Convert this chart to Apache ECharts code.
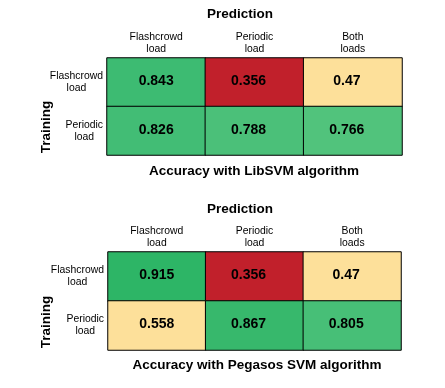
<!DOCTYPE html>
<html><head><meta charset="utf-8">
<script src="https://cdn.jsdelivr.net/npm/echarts@6/dist/echarts.min.js"></script>
<style>html,body{margin:0;padding:0;background:#fff}#c{width:445px;height:388px}</style>
</head><body><div id="c"></div>
<script>
var predCats = ['Flashcrowd\nload', 'Periodic\nload', 'Both\nloads'];
var trainCats = ['Flashcrowd\nload', 'Periodic\nload'];
var libsvmFlash = [0.843, 0.356, 0.47];
var libsvmPeriodic = [0.826, 0.788, 0.766];
var pegasosFlash = [0.915, 0.356, 0.47];
var pegasosPeriodic = [0.558, 0.867, 0.805];
var titles = ['Accuracy with LibSVM algorithm', 'Accuracy with Pegasos SVM algorithm'];

var colorFor = {
  '0.843': '#3dbb72', '0.356': '#c1202b', '0.47': '#fde09a',
  '0.826': '#42bd75', '0.788': '#4bc079', '0.766': '#51c37c',
  '0.915': '#2db566', '0.558': '#fde09a', '0.867': '#37b86c', '0.805': '#47bf77'
};
var FONT = 'Liberation Sans, Arial, sans-serif';

function buildData(rows) {
  var out = [];
  rows.forEach(function (row, yi) {
    row.forEach(function (v, xi) {
      out.push({
        value: [xi, yi, v],
        itemStyle: { color: colorFor[String(v)] },
        label: { offset: [xi === 0 ? 0 : -6, -1] }
      });
    });
  });
  return out;
}

var grids = [
  { left: 107, top: 58, width: 295, height: 97 },
  { left: 108, top: 252, width: 293, height: 98 }
];
var tops = [0, 195];

var xAxes = [], yAxes = [], series = [], graphics = [];
[[libsvmFlash, libsvmPeriodic], [pegasosFlash, pegasosPeriodic]].forEach(function (rows, i) {
  xAxes.push({
    type: 'category', gridIndex: i, position: 'top', data: predCats,
    axisLine: { show: false }, axisTick: { show: false }, splitArea: { show: false },
    axisLabel: { margin: 3, fontFamily: FONT, fontSize: 10.4, color: '#000', lineHeight: 12 }
  });
  yAxes.push({
    type: 'category', gridIndex: i, inverse: true, data: trainCats,
    axisLine: { show: false }, axisTick: { show: false }, splitArea: { show: false },
    axisLabel: {
      margin: 4, color: '#000',
      formatter: function (val) {
        return val.split('\n').map(function (s) { return '{a|' + s + '}'; }).join('\n');
      },
      rich: { a: { align: 'center', fontFamily: FONT, fontSize: 10.4, color: '#000', lineHeight: 12 } }
    }
  });
  series.push({
    type: 'heatmap', xAxisIndex: i, yAxisIndex: i,
    data: buildData(rows),
    itemStyle: { borderColor: '#000', borderWidth: 1 },
    label: {
      show: true, fontFamily: FONT, fontSize: 14, fontWeight: 'bold', color: '#000',
      formatter: function (p) { return String(p.value[2]); }
    },
    emphasis: { disabled: true }
  });
  var t = tops[i];
  graphics.push({
    type: 'text', x: 240, y: t + 14, style: {
      text: 'Prediction', font: 'bold 13.5px ' + FONT, fill: '#000',
      textAlign: 'center', textVerticalAlign: 'middle'
    }
  });
  graphics.push({
    type: 'text', x: 46, y: t + 127, rotation: Math.PI / 2, style: {
      text: 'Training', font: 'bold 13.5px ' + FONT, fill: '#000',
      textAlign: 'center', textVerticalAlign: 'middle'
    }
  });
  graphics.push({
    type: 'text', x: i === 0 ? 254 : 257, y: t + (i === 0 ? 171 : 170), style: {
      text: titles[i], font: 'bold 13.5px ' + FONT, fill: '#000',
      textAlign: 'center', textVerticalAlign: 'middle'
    }
  });
});

var chart = echarts.init(document.getElementById('c'), null, { renderer: 'canvas' });
chart.setOption({
  animation: false,
  backgroundColor: '#fff',
  grid: grids,
  xAxis: xAxes,
  yAxis: yAxes,
  series: series,
  graphic: graphics
});
</script>
</body></html>
